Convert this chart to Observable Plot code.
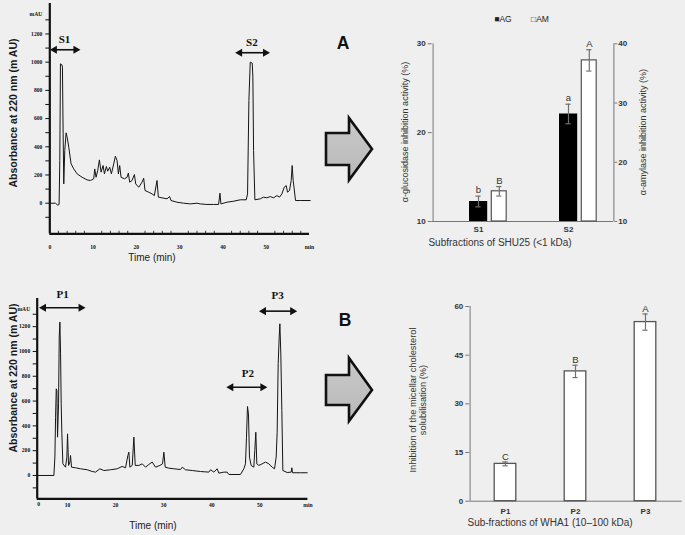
<!DOCTYPE html>
<html><head><meta charset="utf-8">
<script src="https://cdn.jsdelivr.net/npm/d3@7"></script>
<script src="https://cdn.jsdelivr.net/npm/@observablehq/plot@0.6"></script>
<style>
html,body{margin:0;padding:0;background:#efefef;}
#root{position:relative;width:685px;height:535px;overflow:hidden;background:#efefef;font-family:"Liberation Sans",Arial,sans-serif;}
</style></head><body><div id="root"></div>
<script>
// ---------- Data ----------
// Chromatogram A (SHU25)
const timeA = [0,1.31,1.85,2.15,2.31,2.46,2.77,2.92,3.08,3.23,3.46,3.77,4.08,4.38,4.92,5.54,6.31,7.46,8.62,9.38,10.15,10.38,10.69,11.08,11.46,11.85,12.31,12.62,13.08,13.38,13.85,14.23,14.77,15.15,15.54,15.85,16.15,16.46,17.23,17.85,18.15,18.46,19.0,19.54,19.85,20.54,21.31,21.69,22.0,22.85,23.62,24.15,24.77,25.08,25.92,27.08,27.69,28.0,29.38,30.92,32.46,34.0,34.77,36.31,37.85,39.0,39.31,39.54,40.92,42.46,44.0,45.38,45.69,46.0,46.31,46.77,46.92,47.08,47.38,48.62,49.38,50.15,50.92,51.69,52.46,53.08,53.62,54.15,54.62,54.92,55.38,55.77,56.0,56.23,56.46,56.77,57.85,60.15];
const absA = [0,0,-14,-9,303,988,983,965,492,137,374,499,456,397,279,243,208,184,165,161,173,243,184,232,307,220,267,208,260,227,255,208,279,333,303,208,267,184,173,184,213,149,161,203,137,113,149,177,90,78,66,54,161,43,38,31,47,19,7,0,-5,0,-5,-9,-9,-9,71,-5,7,14,24,24,66,728,1000,993,894,374,24,31,43,38,47,38,54,43,66,113,125,78,90,161,267,161,102,19,19,19];
// Chromatogram B (WHA1); its drawn time axis starts at about 3.7 min (labelled "0" in the figure)
const timeB = [3.71,7.18,7.39,7.53,7.67,7.81,7.94,8.15,8.29,8.43,8.57,8.70,8.84,9.05,9.60,9.88,10.02,10.23,10.51,10.64,10.85,11.68,12.72,14.11,15.15,15.84,16.74,17.57,18.96,20.34,21.38,22.08,22.56,22.77,22.98,23.47,23.81,24.09,24.85,25.55,26.24,26.93,27.62,28.32,29.22,29.77,30.05,30.33,31.09,32.13,33.52,33.86,34.55,35.94,37.67,39.4,39.75,40.44,41.14,41.48,42.52,43.21,43.56,45.98,46.68,47.02,47.23,47.44,47.64,47.85,48.2,48.75,48.96,49.17,49.38,49.8,50.49,51.18,51.88,52.57,53.06,53.4,53.61,53.82,54.03,54.17,54.37,54.58,54.79,55.69,56.52,56.66,56.8,58.46,59.85];
const absB = [0,0,148,470,699,685,309,578,1116,1237,981,578,336,94,67,148,336,81,108,161,67,62,54,46,32,27,54,40,46,54,73,62,161,188,67,81,309,81,81,94,67,89,108,67,81,94,188,67,59,54,48,67,46,40,32,27,46,27,54,19,27,27,8,8,54,94,309,556,497,148,81,67,202,349,94,81,94,108,94,67,54,148,349,901,1116,1223,981,524,40,24,27,62,22,22,22];
const timeDomainA = [0, 60];
const timeDomainB = [3.71, 60];

// Fraction annotations (double arrows) on chromatograms
const fracNamesA = ["S1","S2"];
const fracStartA = [1.09, 43.9];
const fracEndA = [6.0, 49.8];
const fracLevelA = [1088, 1067];
const fracLabelXA = [3.4, 46.7];
const fracLabelYA = [1159, 1142];

const fracNamesB = ["P1","P2","P3"];
const fracStartB = [5.05, 44.0, 50.8];
const fracEndB = [12.8, 50.6, 56.8];
const fracLevelB = [1352, 712, 1325];
const fracLabelXB = [9.0, 47.5, 53.7];
const fracLabelYB = [1457, 820, 1452];

// Chromatogram ticks
const chromXTicksA = [0,10,20,30,40,50,60];
const chromXLabelsA = ["0","10","20","30","40","50","min"];
const chromXTicksB = [10,20,30,40,50,60];
const chromXLabelsB = ["10","20","30","40","50","min"];
const chromYTicks = [-100,0,100,200,300,400,500,600,700,800,900,1000,1100,1200,1300];
const chromYLabelled = [0,200,400,600,800,1000,1200];
const minorA = [2,4,6,8,12,14,16,18,22,24,26,28,32,34,36,38,42,44,46,48,52,54,56,58];

// Bar chart A
const fractionsA = ["S1","S2"];
const agValues = [12.25, 22.1];
const agErr = [0.6, 1.1];
const agLetters = ["b","a"];
const amValues = [15.1, 37.2];
const amErr = [0.8, 1.8];
const amLetters = ["B","A"];
const agTicks = [10,20,30];
const amTicks = [10,20,30,40];

// Bar chart B
const fractionsB = ["P1","P2","P3"];
const cholValues = [11.5, 40.0, 55.2];
const cholErr = [0.6, 1.9, 2.5];
const cholLetters = ["C","B","A"];
const cholTicks = [0,15,30,45,60];

// ---------- Helpers ----------
const root = document.getElementById("root");
function place(node, left, top) {
  node.style.position = "absolute";
  node.style.left = left + "px";
  node.style.top = top + "px";
  root.appendChild(node);
  return node;
}
function label(text, cx, cy, o = {}) {
  const d = document.createElement("div");
  d.textContent = text;
  Object.assign(d.style, {
    position: "absolute", left: cx + "px", top: cy + "px",
    transform: `translate(-50%,-50%) rotate(${o.rotate || 0}deg)`,
    whiteSpace: "pre", textAlign: "center",
    fontSize: (o.size || 10) + "px", fontWeight: o.weight || "normal",
    fontFamily: o.family || '"Liberation Sans", Arial, sans-serif',
    color: o.color || "#222", lineHeight: o.lh || "1"
  });
  root.appendChild(d);
}
const baseStyle = {background: "transparent", overflow: "visible", fontFamily: '"Liberation Sans", Arial, sans-serif'};
const tickFont = {fontSize: 5.6, fontWeight: "bold", fontFamily: "Liberation Serif", fill: "#111"};

function chromatogram(cfg) {
  const pts = cfg.time.map((t, i) => ({t, v: cfg.abs[i]}));
  const ann = cfg.names.map((n, i) => ({n, x1: cfg.x1[i], x2: cfg.x2[i], y: cfg.lv[i], lx: cfg.lx[i], ly: cfg.ly[i]}));
  const yd = cfg.yDomain, xd = cfg.xDomain;
  const marks = [
    Plot.axisY({ticks: chromYTicks, tickSize: 4, tickPadding: cfg.yPad, label: null,
      tickFormat: d => chromYLabelled.includes(d) ? String(d) : "", stroke: "#111", ...tickFont}),
    Plot.text(["mAU"], {x: xd[0], y: cfg.mau, dx: -(4 + cfg.yPad), textAnchor: "end", ...tickFont}),
    Plot.axisX({ticks: cfg.xTicks, tickSize: 0, tickPadding: cfg.xPad, label: null,
      tickFormat: d => cfg.xLabels[cfg.xTicks.indexOf(d)], ...tickFont}),
    Plot.ruleX([xd[0]], {y1: yd[0], y2: yd[1], strokeWidth: 2.2, stroke: "#111"}),
    Plot.ruleY([yd[0]], {x1: xd[0], x2: xd[1], strokeWidth: 2.2, stroke: "#111"}),
    Plot.line(pts, {x: "t", y: "v", stroke: "#151515", strokeWidth: 1}),
    Plot.link(ann, {x1: "x1", x2: "x2", y1: "y", y2: "y", stroke: "#111", strokeWidth: 1.6}),
    Plot.dot(ann, {x: "x1", y: "y", symbol: "triangle", r: 3, rotate: -90, fill: "#111", stroke: "none"}),
    Plot.dot(ann, {x: "x2", y: "y", symbol: "triangle", r: 3, rotate: 90, fill: "#111", stroke: "none"}),
    Plot.text(ann, {x: "lx", y: "ly", text: "n", fontFamily: "Liberation Serif", fontWeight: "bold", fontSize: 11, fill: "#111"})
  ];
  if (cfg.zeroLabel) marks.push(Plot.text(["0"], {frameAnchor: "bottom-left", dy: cfg.xPad + 3, ...tickFont}));
  if (cfg.minor) marks.push(Plot.ruleX(cfg.minor, {y1: yd[0], y2: yd[0] + 18, stroke: "#111", strokeWidth: 0.8}));
  return Plot.plot({
    width: cfg.width, height: cfg.height,
    marginLeft: cfg.m[0], marginRight: cfg.m[1], marginTop: cfg.m[2], marginBottom: cfg.m[3],
    style: baseStyle,
    x: {domain: xd, axis: null},
    y: {domain: yd, axis: null},
    marks
  });
}

// ---------- Chromatogram A ----------
place(chromatogram({
  time: timeA, abs: absA, names: fracNamesA, x1: fracStartA, x2: fracEndA, lv: fracLevelA, lx: fracLabelXA, ly: fracLabelYA,
  width: 320, height: 265, m: [49.3, 11, 3, 31.7], xDomain: timeDomainA, xTicks: chromXTicksA, xLabels: chromXLabelsA,
  yDomain: [-217, 1416], xPad: 11, yPad: 3.5, mau: 1340, minor: minorA, zeroLabel: false
}), 0, 0);

// ---------- Chromatogram B ----------
place(chromatogram({
  time: timeB, abs: absB, names: fracNamesB, x1: fracStartB, x2: fracEndB, lv: fracLevelB, lx: fracLabelXB, ly: fracLabelYB,
  width: 320, height: 265, m: [36.7, 12.6, 28, 36.7], xDomain: timeDomainB, xTicks: chromXTicksB, xLabels: chromXLabelsB,
  yDomain: [-188, 1427], xPad: 4, yPad: 3, mau: 1339, minor: null, zeroLabel: true
}), 0, 270);

// ---------- Bar chart A ----------
const dataA = fractionsA.map((f, i) => ({f, ag: agValues[i], agE: agErr[i], la: agLetters[i], am: amValues[i], amE: amErr[i], lA: amLetters[i]}));
const bwA = (233.3 - 51.7) / 2;
const axisCol = "#777", txtCol = "#333", errCol = "#707070";
place(Plot.plot({
  width: 305, height: 260, marginLeft: 51.7, marginRight: 71.7, marginTop: 43.3, marginBottom: 39,
  style: baseStyle,
  x: {type: "band", domain: fractionsA, padding: 0, axis: null},
  y: {domain: [10, 30], axis: null},
  marks: [
    Plot.axisY({ticks: agTicks, tickSize: 4, tickPadding: 2.5, label: null, fontSize: 8, fontWeight: "bold", fill: txtCol, stroke: axisCol}),
    Plot.axisX({tickSize: 0, tickPadding: 5, label: null, fontSize: 8, fontWeight: "bold", fill: txtCol}),
    Plot.ruleX(["S1"], {dx: -bwA / 2, stroke: axisCol}),
    Plot.ruleY([10], {stroke: axisCol}),
    Plot.barY(dataA, {x: "f", y1: 10, y2: "ag", fill: "#000", insetLeft: 36, insetRight: 35.8}),
    Plot.ruleX(dataA, {x: "f", y1: d => d.ag - d.agE, y2: d => d.ag + d.agE, stroke: errCol, strokeWidth: 1.2}),
    Plot.tickY(dataA, {x: "f", y: d => d.ag + d.agE, insetLeft: 42.4, insetRight: 42.4, stroke: errCol, strokeWidth: 1.2}),
    Plot.tickY(dataA, {x: "f", y: d => d.ag - d.agE, insetLeft: 42.4, insetRight: 42.4, stroke: errCol, strokeWidth: 1.2}),
    Plot.text(dataA, {x: "f", y: d => d.ag + d.agE, text: "la", dy: -6, fontSize: 9.5, fill: txtCol})
  ]
}), 380, 0);
place(Plot.plot({
  width: 305, height: 260, marginLeft: 51.7, marginRight: 71.7, marginTop: 43.3, marginBottom: 39,
  style: baseStyle,
  x: {type: "band", domain: fractionsA, padding: 0, axis: null},
  y: {domain: [10, 40], axis: null},
  marks: [
    Plot.axisY({anchor: "right", ticks: amTicks, tickSize: 3, tickPadding: 1.5, label: null, fontSize: 8, fontWeight: "bold", fill: txtCol, stroke: axisCol}),
    Plot.ruleX(["S2"], {dx: bwA / 2, stroke: axisCol}),
    Plot.barY(dataA, {x: "f", y1: 10, y2: "am", fill: "#fff", stroke: "#555", strokeWidth: 1.2, insetLeft: 58.3, insetRight: 16.8}),
    Plot.ruleX(dataA, {x: "f", y1: d => d.am - d.amE, y2: d => d.am + d.amE, dx: 20.8, stroke: errCol, strokeWidth: 1.2}),
    Plot.tickY(dataA, {x: "f", y: d => d.am + d.amE, insetLeft: 63.2, insetRight: 21.6, stroke: errCol, strokeWidth: 1.2}),
    Plot.tickY(dataA, {x: "f", y: d => d.am - d.amE, insetLeft: 63.2, insetRight: 21.6, stroke: errCol, strokeWidth: 1.2}),
    Plot.text(dataA, {x: "f", y: d => d.am + d.amE, text: "lA", dx: 20.8, dy: -6, fontSize: 9.5, fill: txtCol})
  ]
}), 380, 0);

// ---------- Bar chart B ----------
const dataB = fractionsB.map((f, i) => ({f, v: cholValues[i], e: cholErr[i], l: cholLetters[i]}));
const bwB = (301.7 - 89.3) / 3;
place(Plot.plot({
  width: 305, height: 245, marginLeft: 89.3, marginRight: 3.3, marginTop: 16, marginBottom: 34.3,
  style: baseStyle,
  x: {type: "band", domain: fractionsB, padding: 0, axis: null},
  y: {domain: [0, 60], axis: null},
  marks: [
    Plot.axisY({ticks: cholTicks, tickSize: 4, tickPadding: 2.5, label: null, fontSize: 8, fontWeight: "bold", fill: txtCol, stroke: axisCol}),
    Plot.axisX({tickSize: 0, tickPadding: 7, label: null, fontSize: 8, fontWeight: "bold", fill: txtCol}),
    Plot.ruleX(["P1"], {dx: -bwB / 2, stroke: axisCol}),
    Plot.ruleY([0], {stroke: axisCol}),
    Plot.barY(dataB, {x: "f", y: "v", fill: "#fff", stroke: "#555", strokeWidth: 1.3, insetLeft: 24.2, insetRight: 24.2}),
    Plot.ruleX(dataB, {x: "f", y1: d => d.v - d.e, y2: d => d.v + d.e, stroke: errCol, strokeWidth: 1.2}),
    Plot.tickY(dataB, {x: "f", y: d => d.v + d.e, insetLeft: 32.4, insetRight: 32.4, stroke: errCol, strokeWidth: 1.2}),
    Plot.tickY(dataB, {x: "f", y: d => d.v - d.e, insetLeft: 32.4, insetRight: 32.4, stroke: errCol, strokeWidth: 1.2}),
    Plot.text(dataB, {x: "f", y: d => d.v + d.e, text: "l", dy: -5, fontSize: 9.5, fill: txtCol})
  ]
}), 380, 290);

// ---------- Big arrows (decoration) ----------
const svgNS = "http://www.w3.org/2000/svg";
const deco = document.createElementNS(svgNS, "svg");
deco.setAttribute("width", 685); deco.setAttribute("height", 535);
deco.style.position = "absolute"; deco.style.left = "0px"; deco.style.top = "0px"; deco.style.pointerEvents = "none";
deco.innerHTML = `<defs><linearGradient id="g" x1="0" y1="0" x2="0" y2="1"><stop offset="0" stop-color="#c9c9c9"/><stop offset="1" stop-color="#b9b9b9"/></linearGradient></defs>
<polygon points="326,133 349,133 349,118 372,149 349,180 349,165 326,165" fill="url(#g)" stroke="#111" stroke-width="2.6" stroke-linejoin="miter"/>
<polygon points="326,375 349,375 349,358 372,390 349,421 349,405 326,405" fill="url(#g)" stroke="#111" stroke-width="2.6" stroke-linejoin="miter"/>`;
root.appendChild(deco);

// ---------- Text labels ----------
label("A", 343, 44, {size: 17.5, weight: "bold", color: "#111"});
label("B", 345, 321, {size: 17.5, weight: "bold", color: "#111"});
label("Absorbance at 220 nm (m AU)", 13, 113, {size: 10.5, weight: "bold", rotate: -90, color: "#1a1a1a"});
label("Time (min)", 152, 258, {size: 10, color: "#222"});
label("Absorbance at 220 nm (m AU)", 13, 378, {size: 10.5, weight: "bold", rotate: -90, color: "#1a1a1a"});
label("Time (min)", 153, 526, {size: 10, color: "#222"});
label("α-glucosidase inhibition activity (%)", 405, 132, {size: 9, rotate: -90, color: "#333"});
label("α-amylase inhibition activity (%)", 643, 132, {size: 9, rotate: -90, color: "#333"});
label("Subfractions of SHU25 (<1 kDa)", 500, 243, {size: 10, color: "#333"});
label("■AG", 503, 19, {size: 8.5, color: "#222"});
label("□AM", 540, 19, {size: 8.5, color: "#222"});
label("Inhibition of the micellar cholesterol\nsolubilisation (%)", 418, 400, {size: 9.3, rotate: -90, color: "#333", lh: "10px"});
label("Sub-fractions of WHA1 (10‒100 kDa)", 550, 523, {size: 10, color: "#333"});
</script></body></html>
